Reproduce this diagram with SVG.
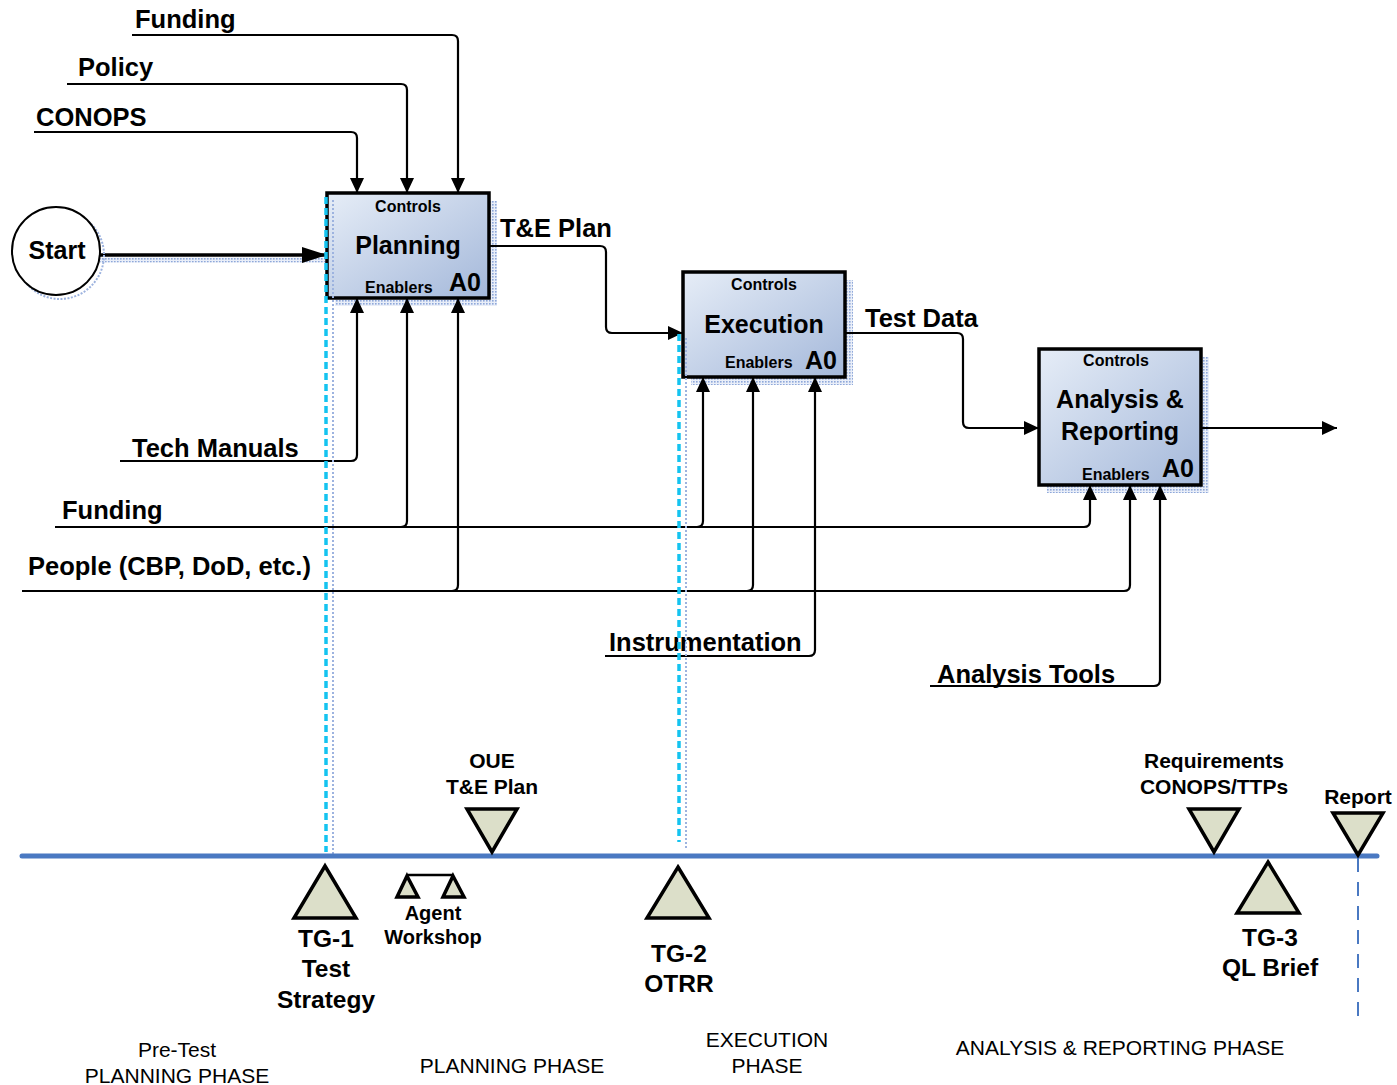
<svg xmlns="http://www.w3.org/2000/svg" width="1397" height="1085" viewBox="0 0 1397 1085">
<defs>
<style>
.lbl{font-family:"Liberation Sans",Arial,sans-serif;font-weight:bold;font-size:25.5px;fill:#000}
.ctl{font-family:"Liberation Sans",Arial,sans-serif;font-weight:bold;font-size:16px;fill:#000}
.ttl{font-family:"Liberation Sans",Arial,sans-serif;font-weight:bold;font-size:25px;fill:#000}
.ms{font-family:"Liberation Sans",Arial,sans-serif;font-weight:bold;font-size:21px;fill:#000}
.aw{font-family:"Liberation Sans",Arial,sans-serif;font-weight:bold;font-size:20px;fill:#000}
.tg{font-family:"Liberation Sans",Arial,sans-serif;font-weight:bold;font-size:24.5px;fill:#000}
.ph{font-family:"Liberation Sans",Arial,sans-serif;font-size:21px;fill:#000}
.con{fill:none;stroke:#000;stroke-width:2.2}
.box{fill:url(#boxg);stroke:#000;stroke-width:3.5}
.shadow{fill:url(#dots)}
.tri{fill:#dcdfc9;stroke:#000;stroke-width:3.5;stroke-linejoin:miter}
.cyan{stroke:#14c3f0;stroke-width:3.5;stroke-dasharray:7 4;fill:none}
.cyansh{stroke:#9db3df;stroke-width:2;stroke-dasharray:2 2;fill:none}
</style>
<linearGradient id="boxg" x1="0" y1="0" x2="1" y2="1">
<stop offset="0" stop-color="#e6edf7"/>
<stop offset="1" stop-color="#a4b8da"/>
</linearGradient>
<pattern id="dots" width="3" height="3" patternUnits="userSpaceOnUse">
<rect width="3" height="3" fill="#e9eef8"/>
<rect width="1.6" height="1.6" fill="#8ea8da"/>
</pattern>
<marker id="arr" markerUnits="userSpaceOnUse" markerWidth="15" markerHeight="14" refX="15" refY="7" orient="auto">
<path d="M0,0 L15,7 L0,14 z" fill="#000"/>
</marker>
<marker id="arrbig" markerUnits="userSpaceOnUse" markerWidth="25" markerHeight="16" refX="25" refY="8" orient="auto">
<path d="M0,0 L25,8 L0,16 z" fill="#000"/>
</marker>
</defs>
<rect width="1397" height="1085" fill="#fff"/>

<!-- shadows -->
<rect class="shadow" x="335" y="201" width="162" height="105"/>
<rect class="shadow" x="691" y="280" width="162" height="105"/>
<rect class="shadow" x="1047" y="357" width="162" height="136"/>
<line x1="100" y1="260" x2="327" y2="260" stroke="url(#dots)" stroke-width="5"/>

<g id="connectors">
<path class="con" d="M132,35 H452 Q458,35 458,41 V193" marker-end="url(#arr)"/>
<path class="con" d="M67,84 H401 Q407,84 407,90 V193" marker-end="url(#arr)"/>
<path class="con" d="M34,132 H351 Q357,132 357,138 V193" marker-end="url(#arr)"/>
<path class="con" d="M120,461 H351 Q357,461 357,455 V298" marker-end="url(#arr)"/>
<path class="con" d="M55,527 H1084 Q1090,527 1090,521 V485" marker-end="url(#arr)"/>
<path class="con" d="M401,527 Q407,527 407,521 V298" marker-end="url(#arr)"/>
<path class="con" d="M697,527 Q703,527 703,521 V377" marker-end="url(#arr)"/>
<path class="con" d="M22,591 H1124 Q1130,591 1130,585 V485" marker-end="url(#arr)"/>
<path class="con" d="M452,591 Q458,591 458,585 V298" marker-end="url(#arr)"/>
<path class="con" d="M747,591 Q753,591 753,585 V377" marker-end="url(#arr)"/>
<path class="con" d="M605,656 H809 Q815,656 815,650 V377" marker-end="url(#arr)"/>
<path class="con" d="M930,686 H1154 Q1160,686 1160,680 V485" marker-end="url(#arr)"/>
<path class="con" d="M489,246 H600 Q606,246 606,252 V327 Q606,333 612,333 H683" marker-end="url(#arr)"/>
<path class="con" d="M845,333 H957 Q963,333 963,339 V422 Q963,428 969,428 H1039" marker-end="url(#arr)"/>
<path class="con" d="M1201,428 H1337" marker-end="url(#arr)"/>
<path d="M100,255 H327" fill="none" stroke="#000" stroke-width="3.5" marker-end="url(#arrbig)"/>
</g>

<g id="labels">
<text class="lbl" x="135" y="28">Funding</text>
<text class="lbl" x="78" y="76">Policy</text>
<text class="lbl" x="36" y="126">CONOPS</text>
<text class="lbl" x="132" y="457">Tech Manuals</text>
<text class="lbl" x="62" y="519">Funding</text>
<text class="lbl" x="28" y="575">People (CBP, DoD, etc.)</text>
<text class="lbl" x="609" y="651">Instrumentation</text>
<text class="lbl" x="937" y="683">Analysis Tools</text>
<text class="lbl" x="500" y="237">T&amp;E Plan</text>
<text class="lbl" x="865" y="327">Test Data</text>
</g>

<g id="start">
<circle cx="60" cy="255" r="44" fill="none" stroke="#9db3df" stroke-width="2" stroke-dasharray="2 1.5"/>
<circle cx="56" cy="251" r="44" fill="#fff" stroke="#000" stroke-width="2"/>
<text class="ttl" x="57" y="259" text-anchor="middle">Start</text>
</g>

<g id="planning">
<rect class="box" x="327" y="193" width="162" height="105"/>
<text class="ctl" x="408" y="212" text-anchor="middle">Controls</text>
<text class="ttl" x="408" y="254" text-anchor="middle">Planning</text>
<text class="ctl" x="365" y="293">Enablers</text>
<text class="ttl" x="449" y="291">A0</text>
</g>

<g id="execution">
<rect class="box" x="683" y="272" width="162" height="105"/>
<text class="ctl" x="764" y="290" text-anchor="middle">Controls</text>
<text class="ttl" x="764" y="333" text-anchor="middle">Execution</text>
<text class="ctl" x="725" y="368">Enablers</text>
<text class="ttl" x="805" y="369">A0</text>
</g>

<g id="analysis">
<rect class="box" x="1039" y="349" width="162" height="136"/>
<text class="ctl" x="1116" y="366" text-anchor="middle">Controls</text>
<text class="ttl" x="1120" y="408" text-anchor="middle">Analysis &amp;</text>
<text class="ttl" x="1120" y="440" text-anchor="middle">Reporting</text>
<text class="ctl" x="1082" y="480">Enablers</text>
<text class="ttl" x="1162" y="477">A0</text>
</g>

<g id="markers-lines">
<line class="cyansh" x1="333" y1="200" x2="333" y2="855"/>
<line class="cyan" x1="326" y1="197" x2="326" y2="852"/>
<line class="cyansh" x1="686" y1="338" x2="686" y2="848"/>
<line class="cyan" x1="679" y1="334" x2="679" y2="842"/>
</g>

<g id="timeline">
<line x1="22" y1="856" x2="1377" y2="856" stroke="#4a79c2" stroke-width="5" stroke-linecap="round"/>
<line x1="1358" y1="858" x2="1358" y2="1024" stroke="#4a79c2" stroke-width="2" stroke-dasharray="14 10"/>
</g>

<g id="tg1">
<polygon class="tri" points="325,866 356,918 294,918"/>
<text class="tg" x="326" y="947" text-anchor="middle">TG-1</text>
<text class="tg" x="326" y="977" text-anchor="middle">Test</text>
<text class="tg" x="326" y="1008" text-anchor="middle">Strategy</text>
</g>

<g id="agent-workshop">
<line x1="408" y1="875" x2="453" y2="875" stroke="#000" stroke-width="2.5"/>
<polygon class="tri" points="407,876 418,897 397,897"/>
<polygon class="tri" points="453,876 464,897 443,897"/>
<text class="aw" x="433" y="920" text-anchor="middle">Agent</text>
<text class="aw" x="433" y="944" text-anchor="middle">Workshop</text>
</g>

<g id="oue">
<polygon class="tri" points="467,809 517,809 492,852"/>
<text class="ms" x="492" y="768" text-anchor="middle">OUE</text>
<text class="ms" x="492" y="794" text-anchor="middle">T&amp;E Plan</text>
</g>

<g id="tg2">
<polygon class="tri" points="678,867 709,918 647,918"/>
<text class="tg" x="679" y="962" text-anchor="middle">TG-2</text>
<text class="tg" x="679" y="992" text-anchor="middle">OTRR</text>
</g>

<g id="requirements">
<polygon class="tri" points="1189,809 1239,809 1214,852"/>
<text class="ms" x="1214" y="768" text-anchor="middle">Requirements</text>
<text class="ms" x="1214" y="794" text-anchor="middle">CONOPS/TTPs</text>
</g>

<g id="tg3">
<polygon class="tri" points="1268,862 1299,913 1237,913"/>
<text class="tg" x="1270" y="946" text-anchor="middle">TG-3</text>
<text class="tg" x="1270" y="976" text-anchor="middle">QL Brief</text>
</g>

<g id="report">
<polygon class="tri" points="1333,813 1383,813 1358,855"/>
<text class="ms" x="1358" y="804" text-anchor="middle">Report</text>
</g>

<g id="phases">
<text class="ph" x="177" y="1057" text-anchor="middle">Pre-Test</text>
<text class="ph" x="177" y="1083" text-anchor="middle">PLANNING PHASE</text>
<text class="ph" x="512" y="1073" text-anchor="middle">PLANNING PHASE</text>
<text class="ph" x="767" y="1047" text-anchor="middle">EXECUTION</text>
<text class="ph" x="767" y="1073" text-anchor="middle">PHASE</text>
<text class="ph" x="1120" y="1055" text-anchor="middle">ANALYSIS &amp; REPORTING PHASE</text>
</g>
</svg>
